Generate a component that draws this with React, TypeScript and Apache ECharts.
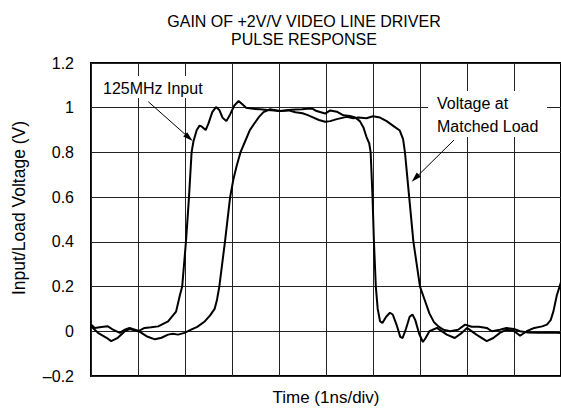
import React, { useEffect, useRef } from "react";
import * as echarts from "echarts";

// Time in ns (1 ns per division), voltage in V
const inputTrace: [number, number][] = [
  [0, 0.022], [0.15, -0.007], [0.33, -0.029], [0.43, -0.044], [0.57, -0.029], [0.72, 0], [0.82, 0.01],
  [1.0, 0], [1.14, 0.015], [1.28, 0.018], [1.43, 0.022], [1.64, 0.044], [1.81, 0.088], [1.89, 0.16],
  [1.94, 0.2], [2.02, 0.4], [2.085, 0.6], [2.14, 0.8], [2.18, 0.85], [2.25, 0.9], [2.31, 0.92],
  [2.36, 0.915], [2.44, 0.9], [2.5, 0.93], [2.58, 0.98], [2.66, 1.003], [2.73, 0.99], [2.8, 0.955],
  [2.88, 0.94], [2.96, 0.97], [3.05, 1.01], [3.14, 1.03], [3.22, 1.015], [3.3, 1.0], [3.45, 0.995],
  [3.6, 0.993], [3.75, 0.99], [3.9, 0.988], [4.05, 0.985], [4.2, 0.99], [4.35, 0.992], [4.49, 0.993],
  [4.6, 0.995], [4.7, 0.997], [4.8, 0.985], [4.98, 0.974], [5.09, 0.988], [5.23, 0.982], [5.37, 0.966],
  [5.51, 0.963], [5.62, 0.956], [5.72, 0.94], [5.8, 0.91], [5.86, 0.87], [5.92, 0.84], [5.95, 0.8],
  [5.99, 0.6], [6.02, 0.4], [6.06, 0.2], [6.1, 0.1], [6.15, 0.045], [6.2, 0.037], [6.28, 0.065],
  [6.36, 0.083], [6.42, 0.075], [6.5, 0.03], [6.58, -0.025], [6.63, -0.03], [6.7, 0.01], [6.78, 0.065],
  [6.84, 0.075], [6.9, 0.05], [6.98, -0.01], [7.06, -0.048], [7.12, -0.03], [7.2, 0.0], [7.36, 0.015],
  [7.57, -0.015], [7.74, -0.03], [7.89, -0.007], [8.0, 0.015], [8.2, -0.015], [8.42, -0.044],
  [8.56, -0.03], [8.7, -0.007], [8.84, 0.007], [8.99, 0.003], [9.13, -0.02], [9.27, 0], [9.43, 0.015],
  [9.6, 0.022], [9.7, 0.03], [9.78, 0.05], [9.84, 0.09], [9.91, 0.16], [10, 0.22],
];

const loadTrace: [number, number][] = [
  [0, 0.03], [0.08, 0.015], [0.22, 0.019], [0.36, 0.022], [0.47, 0.007], [0.61, -0.007], [0.72, 0.007],
  [0.82, 0.015], [1.0, 0.003], [1.18, -0.022], [1.36, -0.036], [1.5, -0.029], [1.64, -0.015],
  [1.74, -0.011], [1.85, -0.015], [1.99, -0.007], [2.13, 0.007], [2.26, 0.02], [2.42, 0.044],
  [2.53, 0.07], [2.63, 0.1], [2.68, 0.14], [2.73, 0.2], [2.85, 0.4], [2.96, 0.6], [3.03, 0.68],
  [3.1, 0.74], [3.18, 0.8], [3.28, 0.85], [3.38, 0.9], [3.49, 0.934], [3.58, 0.96], [3.67, 0.98],
  [3.81, 0.993], [4.0, 0.985], [4.2, 0.988], [4.35, 0.98], [4.5, 0.975], [4.6, 0.968], [4.71, 0.958],
  [4.85, 0.945], [4.98, 0.937], [5.09, 0.94], [5.23, 0.949], [5.44, 0.959], [5.58, 0.953],
  [5.69, 0.956], [5.86, 0.953], [6.0, 0.962], [6.15, 0.956], [6.29, 0.94], [6.43, 0.919],
  [6.57, 0.898], [6.64, 0.86], [6.68, 0.8], [6.77, 0.6], [6.86, 0.4], [7.0, 0.2], [7.1, 0.14],
  [7.2, 0.08], [7.3, 0.04], [7.39, 0.022], [7.5, 0.007], [7.64, 0], [7.81, 0.007], [7.96, 0.03],
  [8.1, 0.02], [8.25, 0.02], [8.42, 0.015], [8.53, 0], [8.7, 0.007], [8.84, 0.015], [9.0, 0.01],
  [9.13, 0], [9.3, -0.005], [9.5, -0.007], [9.8, -0.005], [10, -0.008],
];

const titleLines = ["GAIN OF +2V/V VIDEO LINE DRIVER", "PULSE RESPONSE"];
const xAxisTitle = "Time (1ns/div)";
const yAxisTitle = "Input/Load Voltage (V)";
const inputLabel = "125MHz Input";
const loadLabel = ["Voltage at", "Matched Load"];

const FONT = "'Liberation Sans', Arial, Helvetica, sans-serif";

export default function App() {
  const ref = useRef<HTMLDivElement>(null);
  useEffect(() => {
    if (!ref.current) return;
    const chart = echarts.init(ref.current, undefined, { renderer: "svg" });
    const textStyle = { fontFamily: FONT, fontSize: 16, fill: "#000" };
    chart.setOption({
      animation: false,
      backgroundColor: "#fff",
      grid: {
        left: 91, top: 63, right: 0, bottom: 29,
        show: true, borderColor: "#000", borderWidth: 2, backgroundColor: "transparent",
      },
      xAxis: {
        type: "value", min: 0, max: 10, interval: 1,
        axisLine: { show: false }, axisTick: { show: false }, axisLabel: { show: false },
        splitLine: { show: true, lineStyle: { color: "#222", width: 1 } },
        name: xAxisTitle, nameLocation: "middle", nameGap: 13,
        nameTextStyle: { fontFamily: FONT, fontSize: 17, color: "#000" },
      },
      yAxis: {
        type: "value", min: -0.2, max: 1.2, interval: 0.2,
        axisLine: { show: false }, axisTick: { show: false },
        axisLabel: {
          margin: 17, fontFamily: FONT, fontSize: 16, color: "#000",
          formatter: (v: number) => {
            const r = Math.round(v * 10) / 10;
            return r < 0 ? "\u2013" + Math.abs(r).toString() : r.toString();
          },
        },
        splitLine: { show: true, lineStyle: { color: "#222", width: 1 } },
      },
      series: [
        {
          type: "line", data: inputTrace, showSymbol: false, symbol: "none",
          lineStyle: { color: "#000", width: 2 }, z: 3,
        },
        {
          type: "line", data: loadTrace, showSymbol: false, symbol: "none",
          lineStyle: { color: "#000", width: 2 }, z: 3,
        },
      ],
      graphic: [
        { type: "text", x: 304, y: 21, style: { ...textStyle, text: titleLines[0], textAlign: "center", textVerticalAlign: "middle" } },
        { type: "text", x: 304, y: 39, style: { ...textStyle, text: titleLines[1], textAlign: "center", textVerticalAlign: "middle" } },
        { type: "text", x: 19, y: 208, rotation: Math.PI / 2, style: { ...textStyle, fontSize: 17.5, text: yAxisTitle, textAlign: "center", textVerticalAlign: "middle" } },
        // label boxes hiding the grid
        { type: "rect", z: 1, shape: { x: 98, y: 76, width: 108, height: 22 }, style: { fill: "#fff" } },
        { type: "rect", z: 1, shape: { x: 428, y: 91, width: 119, height: 46 }, style: { fill: "#fff" } },
        { type: "text", z: 2, x: 103, y: 88, style: { ...textStyle, text: inputLabel, textVerticalAlign: "middle" } },
        { type: "text", z: 2, x: 437, y: 103.5, style: { ...textStyle, text: loadLabel[0], textVerticalAlign: "middle" } },
        { type: "text", z: 2, x: 437, y: 126.5, style: { ...textStyle, text: loadLabel[1], textVerticalAlign: "middle" } },
        // arrows
        { type: "line", z: 2, shape: { x1: 148.3, y1: 101.7, x2: 187, y2: 136 }, style: { stroke: "#000", lineWidth: 1 } },
        { type: "polygon", z: 2, shape: { points: [[192.7, 141], [183.2, 136.6], [187.2, 132.2]] }, style: { fill: "#000" } },
        { type: "line", z: 2, shape: { x1: 454, y1: 140, x2: 417, y2: 176.5 }, style: { stroke: "#000", lineWidth: 1 } },
        { type: "polygon", z: 2, shape: { points: [[411.7, 181.7], [416.7, 172.6], [420.9, 176.8]] }, style: { fill: "#000" } },
      ],
    });
    return () => chart.dispose();
  }, []);
  return (
    <div
      ref={ref}
      style={{ position: "absolute", left: 0, top: 0, width: 561, height: 411, background: "#fff" }}
    />
  );
}
